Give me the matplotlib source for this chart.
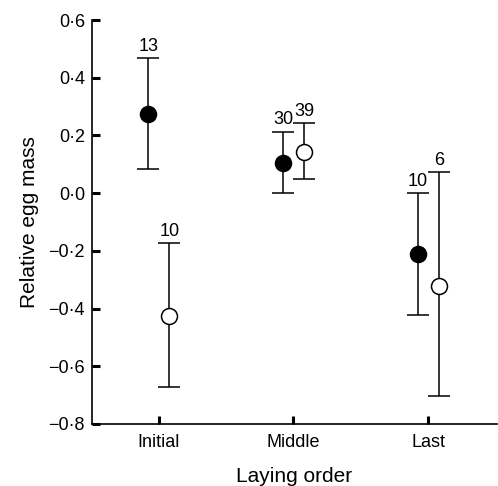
import matplotlib
matplotlib.use('Agg')
import matplotlib.pyplot as plt

plt.rcParams['font.family'] = ['Liberation Sans', 'DejaVu Sans']

categories = ['Initial', 'Middle', 'Last']
filled_mean = [0.275, 0.103, -0.211]
filled_upper = [0.467, 0.213, 0.0]
filled_lower = [0.083, 0.0, -0.422]
filled_n = ['13', '30', '10']
open_mean = [-0.426, 0.142, -0.321]
open_upper = [-0.173, 0.242, 0.072]
open_lower = [-0.672, 0.049, -0.702]
open_n = ['10', '39', '6']
yticks = [-0.8, -0.6, -0.4, -0.2, 0.0, 0.2, 0.4, 0.6]
ytick_labels = ['\u22120\u00b78', '\u22120\u00b76', '\u22120\u00b74', '\u22120\u00b72',
                '0\u00b70', '0\u00b72', '0\u00b74', '0\u00b76']

fig = plt.figure(figsize=(4.98, 4.86), dpi=100)
ax = fig.add_axes([0.1847, 0.1276, 0.8133, 0.8312])

off = 0.078
series = [(filled_mean, filled_upper, filled_lower, filled_n, -off, 'black'),
          (open_mean, open_upper, open_lower, open_n, off, 'white')]
for mean, up, lo, n, dx, fc in series:
    xs = [i + dx for i in range(len(categories))]
    err = [[m - l for m, l in zip(mean, lo)], [u - m for m, u in zip(mean, up)]]
    ax.errorbar(xs, mean, yerr=err, fmt='o', ms=11.5, mfc=fc, mec='black',
                mew=1.1, ecolor='black', elinewidth=1.1, capsize=7.7,
                capthick=1.1, color='black', zorder=3)
    for x, u, t in zip(xs, up, n):
        ax.annotate(t, (x, u), xytext=(0, 2.5), textcoords='offset points',
                    ha='center', va='bottom', fontsize=13)

ax.set_xlim(-0.495, 2.51)
ax.set_ylim(-0.8, 0.6)
ax.set_xticks(range(len(categories)))
ax.set_xticklabels(categories)
ax.set_yticks(yticks)
ax.set_yticklabels(ytick_labels)
ax.spines['top'].set_visible(False)
ax.spines['right'].set_visible(False)
for s in ['left', 'bottom']:
    ax.spines[s].set_linewidth(1.2)
ax.tick_params(direction='in', length=5.5, width=2.2, labelsize=13, pad=5)
ax.tick_params(axis='x', pad=7.5)
ax.set_xlabel('Laying order', fontsize=15, labelpad=11)
ax.set_ylabel('Relative egg mass', fontsize=15, labelpad=7)

fig.savefig('out.png', dpi=100)
